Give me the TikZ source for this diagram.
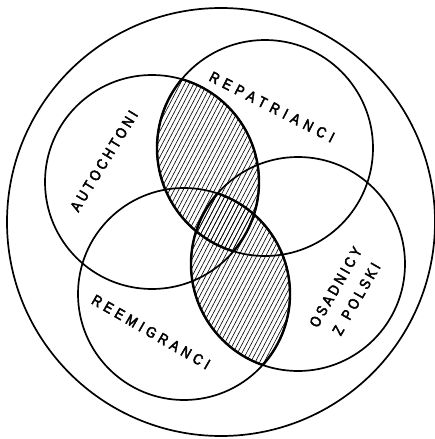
\documentclass[tikz,border=0pt]{standalone}
\usepackage{fontspec}
\newfontfamily\labfont[FakeStretch=0.85, FakeBold=3]{Liberation Sans}
\usetikzlibrary{positioning}

\tikzset{
  set/.style={line width=1.7pt},
  lens/.style={line width=2.4pt},
  hatch/.style={line width=0.6pt},
  lab/.style={font={\labfont\addfontfeatures{LetterSpace=#1}\fontsize{15}{24}\selectfont},
    inner sep=0pt, align=center}
}

\begin{document}
\begin{tikzpicture}[x=1pt, y=-1pt]
    \useasboundingbox (0,0) rectangle (434,439);
    % centres of the sets
    \coordinate (all) at (221,222);
    \coordinate (aut) at (152,182);
    \coordinate (rep) at (265,148);
    \coordinate (ree) at (184,294);
    \coordinate (osa) at (298,264);

    % hatched lenses
    \begin{scope}
        \clip (aut) circle (107);
        \clip (rep) circle (108);
        \foreach \x in {-240,-235.5,...,440}
            \draw[hatch] (\x,440) -- ++(230,-440);
    \end{scope}
    \begin{scope}
        \clip (ree) circle (106);
        \clip (osa) circle (107);
        \foreach \x in {-240,-235.5,...,440}
            \draw[hatch] (\x,440) -- ++(230,-440);
    \end{scope}

    \draw[set] (all) circle (214);
    \draw[set] (aut) circle (107);
    \draw[set] (rep) circle (108);
    \draw[set] (ree) circle (106);
    \draw[set] (osa) circle (107);

    % bold rims of the lenses
    \begin{scope}
        \clip (aut) circle (107);
        \draw[lens] (rep) circle (108);
    \end{scope}
    \begin{scope}
        \clip (rep) circle (108);
        \draw[lens] (aut) circle (107);
    \end{scope}
    \begin{scope}
        \clip (ree) circle (106);
        \draw[lens] (osa) circle (107);
    \end{scope}
    \begin{scope}
        \clip (osa) circle (107);
        \draw[lens] (ree) circle (106);
    \end{scope}

    \node[lab=23, rotate=58.5] (autlab) at (104,161) {AUTOCHTONI};
    \node[lab=36, rotate=-27] (replab) at (272,107) {REPATRIANCI};
    \node[lab=29, rotate=-30] (reelab) at (151,332) {REEMIGRANCI};
    \node[lab=22, rotate=60] (osalab) at (346,293) {OSADNICY\\Z\kern10pt POLSKI};
\end{tikzpicture}
\end{document}
